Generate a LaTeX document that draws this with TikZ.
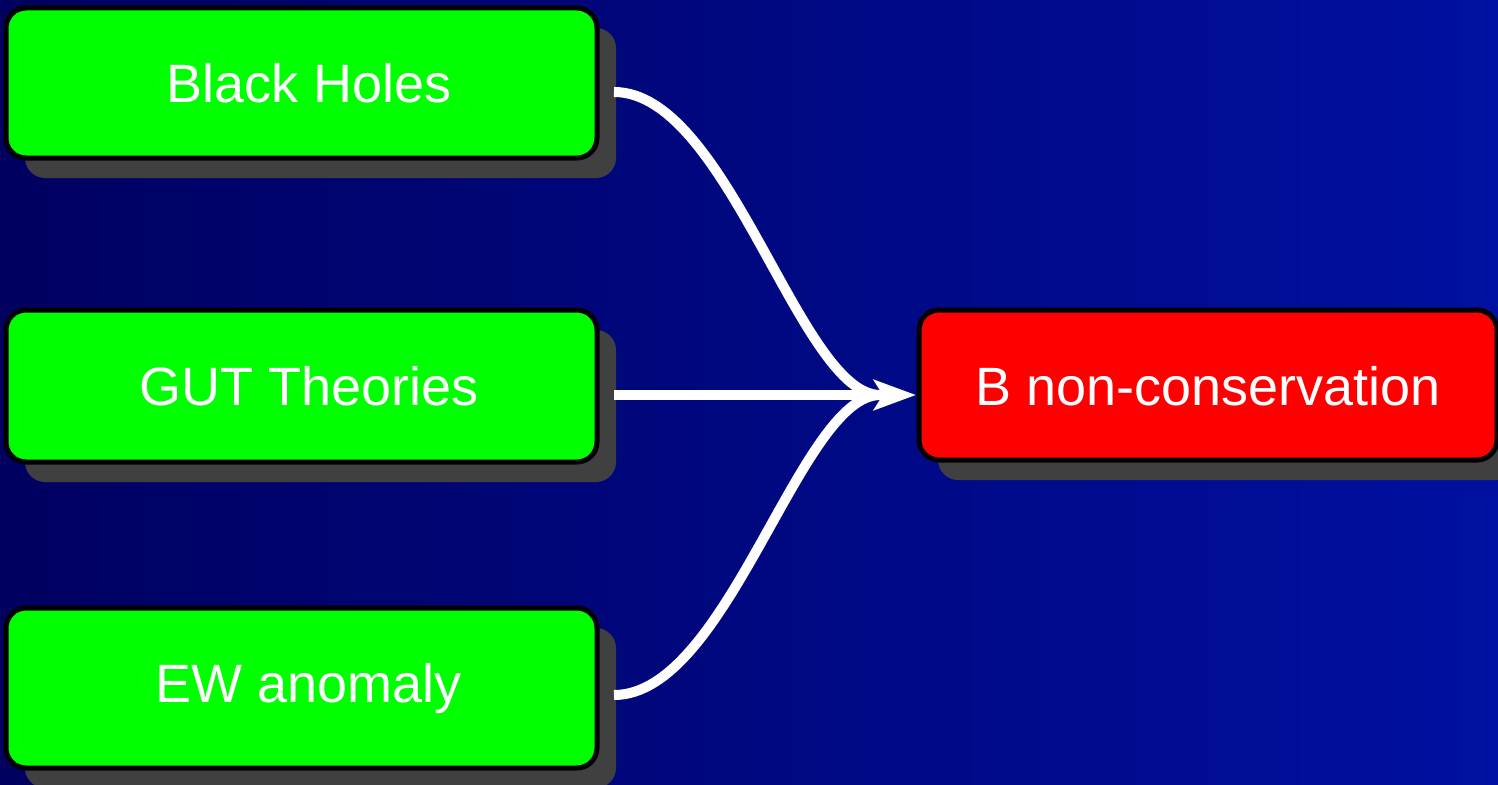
\documentclass[tikz,border=0pt]{standalone}
\usepackage{fontspec}
\setmainfont{Liberation Sans}
\usetikzlibrary{arrows.meta,shadows}
\definecolor{bgleft}{RGB}{0,0,96}
\definecolor{bgright}{RGB}{0,16,160}
\definecolor{shadowgray}{RGB}{64,64,64}
\definecolor{boxgreen}{RGB}{0,255,0}
\definecolor{boxred}{RGB}{255,0,0}
\begin{document}
\begin{tikzpicture}[x=1pt,y=-1pt,
  box/.style={draw=black, line width=5pt, rounded corners=20pt, inner sep=0pt,
    drop shadow={shadow xshift=19pt, shadow yshift=-20pt, fill=shadowgray, opacity=1}},
  lbl/.style={text=white, font=\fontsize{54}{60}\selectfont, inner sep=0pt, anchor=base},
  conn/.style={white, line width=10pt},
  tip/.style={-{Stealth[length=42pt,width=30pt,inset=9pt]}}
]
\useasboundingbox (0,0) rectangle (1498,784);
\shade[left color=bgleft, right color=bgright] (0,0) rectangle (1498,784);
% boxes
\node[box, fill=boxgreen, minimum width=591pt, minimum height=150pt] (bh) at (301.5,83) {};
\node[box, fill=boxgreen, minimum width=591pt, minimum height=152pt] (gut) at (301.5,386) {};
\node[box, fill=boxgreen, minimum width=591pt, minimum height=160pt] (ew) at (301.5,688) {};
\node[box, fill=boxred, minimum width=578pt, minimum height=150pt] (bnc) at (1208,385) {};
% labels
\node[lbl] (tbh) at (309,102) {Black Holes};
\node[lbl] (tgut) at (309,405) {GUT Theories};
\node[lbl] (tew) at (309,702) {EW anomaly};
\node[lbl] (tbnc) at (1208,405) {B non-conservation};
% connector end points
\coordinate (s1) at (614,92);
\coordinate (s2) at (614,395);
\coordinate (s3) at (614,695);
\coordinate (m) at (880,395);
\coordinate (t) at (916,395);
\draw[conn] (s1) .. controls (728,92) and (800,395) .. (m);
\draw[conn] (s3) .. controls (728,695) and (800,395) .. (m);
\draw[conn, tip] (s2) -- (t);
\end{tikzpicture}
\end{document}
